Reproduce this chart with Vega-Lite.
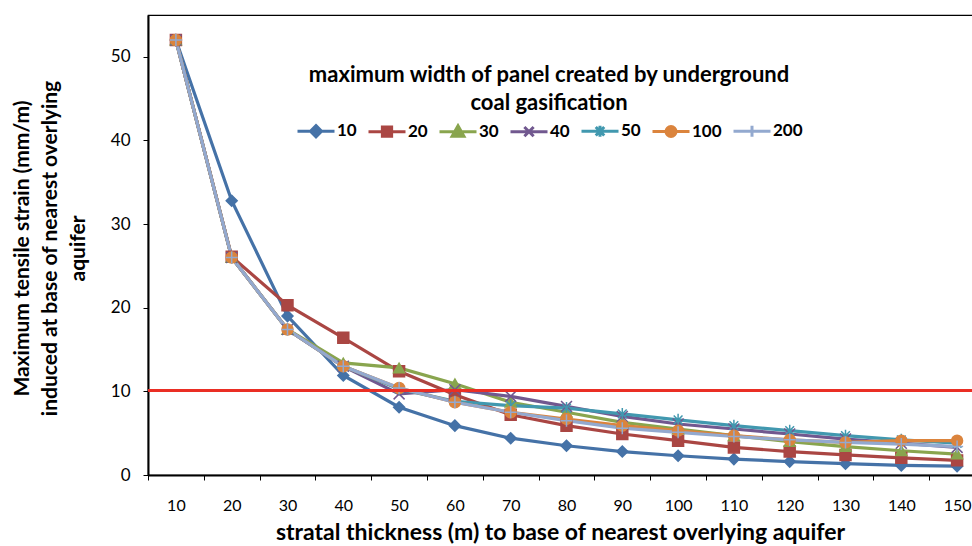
{
  "$schema": "https://vega.github.io/schema/vega-lite/v6.json",
  "autosize": "none",
  "padding": {"left": 148, "top": 15, "right": 0, "bottom": 71},
  "width": 837,
  "height": 460,
  "background": "white",
  "config": {
    "view": {"stroke": "#000", "strokeWidth": 1.2},
    "font": "Lato"
  },
  "datasets": {
    "series": [
      {"t": 10, "w": "10", "v": 52}, {"t": 20, "w": "10", "v": 32.8}, {"t": 30, "w": "10", "v": 19.0}, {"t": 40, "w": "10", "v": 11.9}, {"t": 50, "w": "10", "v": 8.1}, {"t": 60, "w": "10", "v": 5.9}, {"t": 70, "w": "10", "v": 4.4}, {"t": 80, "w": "10", "v": 3.5}, {"t": 90, "w": "10", "v": 2.8}, {"t": 100, "w": "10", "v": 2.3}, {"t": 110, "w": "10", "v": 1.9}, {"t": 120, "w": "10", "v": 1.6}, {"t": 130, "w": "10", "v": 1.35}, {"t": 140, "w": "10", "v": 1.15}, {"t": 150, "w": "10", "v": 1.05},
      {"t": 10, "w": "20", "v": 52}, {"t": 20, "w": "20", "v": 26.1}, {"t": 30, "w": "20", "v": 20.3}, {"t": 40, "w": "20", "v": 16.4}, {"t": 50, "w": "20", "v": 12.4}, {"t": 60, "w": "20", "v": 9.6}, {"t": 70, "w": "20", "v": 7.2}, {"t": 80, "w": "20", "v": 5.9}, {"t": 90, "w": "20", "v": 4.9}, {"t": 100, "w": "20", "v": 4.1}, {"t": 110, "w": "20", "v": 3.3}, {"t": 120, "w": "20", "v": 2.8}, {"t": 130, "w": "20", "v": 2.4}, {"t": 140, "w": "20", "v": 2.05}, {"t": 150, "w": "20", "v": 1.75},
      {"t": 10, "w": "30", "v": 52}, {"t": 20, "w": "30", "v": 26.0}, {"t": 30, "w": "30", "v": 17.4}, {"t": 40, "w": "30", "v": 13.4}, {"t": 50, "w": "30", "v": 12.8}, {"t": 60, "w": "30", "v": 10.9}, {"t": 70, "w": "30", "v": 8.7}, {"t": 80, "w": "30", "v": 7.5}, {"t": 90, "w": "30", "v": 6.3}, {"t": 100, "w": "30", "v": 5.5}, {"t": 110, "w": "30", "v": 4.7}, {"t": 120, "w": "30", "v": 4.0}, {"t": 130, "w": "30", "v": 3.4}, {"t": 140, "w": "30", "v": 2.9}, {"t": 150, "w": "30", "v": 2.5},
      {"t": 10, "w": "40", "v": 52}, {"t": 20, "w": "40", "v": 26.0}, {"t": 30, "w": "40", "v": 17.4}, {"t": 40, "w": "40", "v": 13.0}, {"t": 50, "w": "40", "v": 9.7}, {"t": 60, "w": "40", "v": 10.2}, {"t": 70, "w": "40", "v": 9.4}, {"t": 80, "w": "40", "v": 8.2}, {"t": 90, "w": "40", "v": 7.0}, {"t": 100, "w": "40", "v": 6.1}, {"t": 110, "w": "40", "v": 5.5}, {"t": 120, "w": "40", "v": 4.9}, {"t": 130, "w": "40", "v": 4.3}, {"t": 140, "w": "40", "v": 3.8}, {"t": 150, "w": "40", "v": 3.3},
      {"t": 10, "w": "50", "v": 52}, {"t": 20, "w": "50", "v": 26.0}, {"t": 30, "w": "50", "v": 17.4}, {"t": 40, "w": "50", "v": 13.0}, {"t": 50, "w": "50", "v": 10.3}, {"t": 60, "w": "50", "v": 8.8}, {"t": 70, "w": "50", "v": 8.3}, {"t": 80, "w": "50", "v": 8.0}, {"t": 90, "w": "50", "v": 7.3}, {"t": 100, "w": "50", "v": 6.6}, {"t": 110, "w": "50", "v": 5.9}, {"t": 120, "w": "50", "v": 5.3}, {"t": 130, "w": "50", "v": 4.7}, {"t": 140, "w": "50", "v": 4.2}, {"t": 150, "w": "50", "v": 3.8},
      {"t": 10, "w": "100", "v": 52}, {"t": 20, "w": "100", "v": 26.0}, {"t": 30, "w": "100", "v": 17.4}, {"t": 40, "w": "100", "v": 13.0}, {"t": 50, "w": "100", "v": 10.4}, {"t": 60, "w": "100", "v": 8.7}, {"t": 70, "w": "100", "v": 7.5}, {"t": 80, "w": "100", "v": 6.7}, {"t": 90, "w": "100", "v": 5.9}, {"t": 100, "w": "100", "v": 5.3}, {"t": 110, "w": "100", "v": 4.7}, {"t": 120, "w": "100", "v": 4.2}, {"t": 130, "w": "100", "v": 3.9}, {"t": 140, "w": "100", "v": 4.1}, {"t": 150, "w": "100", "v": 4.1},
      {"t": 10, "w": "200", "v": 52}, {"t": 20, "w": "200", "v": 26.0}, {"t": 30, "w": "200", "v": 17.4}, {"t": 40, "w": "200", "v": 13.0}, {"t": 50, "w": "200", "v": 10.4}, {"t": 60, "w": "200", "v": 8.7}, {"t": 70, "w": "200", "v": 7.5}, {"t": 80, "w": "200", "v": 6.5}, {"t": 90, "w": "200", "v": 5.6}, {"t": 100, "w": "200", "v": 5.1}, {"t": 110, "w": "200", "v": 4.6}, {"t": 120, "w": "200", "v": 4.2}, {"t": 130, "w": "200", "v": 3.9}, {"t": 140, "w": "200", "v": 3.7}, {"t": 150, "w": "200", "v": 3.4}
    ],
    "threshold": [{"limit": 10.1}]
  },
  "encoding": {
    "x": {
      "field": "t",
      "type": "ordinal",
      "scale": {"type": "band", "paddingInner": 0, "paddingOuter": 0},
      "axis": {
        "tickBand": "extent",
        "labelAngle": 0,
        "labelFontSize": 16,
        "labelColor": "#000",
        "labelPadding": 17,
        "tickColor": "#000",
        "tickSize": 5,
        "domainColor": "#000",
        "domainWidth": 2,
        "title": "stratal thickness (m) to base of nearest overlying aquifer",
        "titleFontSize": 23,
        "titleFontWeight": "bold",
        "titleColor": "#000",
        "titleX": 412,
        "titleY": 57,
        "titleBaseline": "middle",
        "titleAnchor": "middle",
        "titleLimit": 1000
      }
    },
    "y": {
      "field": "v",
      "type": "quantitative",
      "scale": {"domain": [0, 55], "nice": false},
      "axis": {
        "values": [0, 10, 20, 30, 40, 50],
        "grid": false,
        "labelFontSize": 17,
        "labelColor": "#000",
        "labelPadding": 13,
        "tickColor": "#000",
        "tickSize": 5,
        "domainColor": "#000",
        "domainWidth": 2,
        "title": ["Maximum tensile strain (mm/m)", "induced at base of nearest overlying", "aquifer"],
        "titleFontSize": 21,
        "titleFontWeight": "bold",
        "titleColor": "#000",
        "titleLineHeight": 28,
        "titleX": -126,
        "titleY": 233,
        "titleBaseline": "middle",
        "titleAnchor": "middle",
        "titleLimit": 1000
      }
    }
  },
  "layer": [
    {
      "data": {"name": "series"},
      "mark": {"type": "line", "strokeWidth": 3.2},
      "encoding": {
        "color": {
          "field": "w",
          "type": "nominal",
          "scale": {
            "domain": ["10", "20", "30", "40", "50", "100", "200"],
            "range": ["#4572A7", "#AA4643", "#89A54E", "#71588F", "#4198AF", "#DB843D", "#93A9CF"]
          },
          "legend": {
            "orient": "none",
            "legendX": 148,
            "legendY": 50,
            "direction": "horizontal",
            "title": ["maximum width of panel created by underground", "coal gasification"],
            "titleFontSize": 22,
            "titleFontWeight": "bold",
            "titleColor": "#000",
            "titleLineHeight": 28,
            "titleLimit": 1000,
            "titleAnchor": "middle",
            "titleAlign": "center",
            "titlePadding": -4,
            "labelFontSize": 17,
            "labelFontWeight": "bold",
            "labelColor": "#000",
            "labelOffset": 1,
            "columnPadding": 5,
            "symbolSize": 1369,
            "symbolStrokeWidth": 3,
            "encode": {
              "symbols": {
                "update": {
                  "shape": {"signal": "datum.value === '10' ? 'M-1,0L1,0M0,-0.3L0.3,0L0,0.3L-0.3,0Z' : datum.value === '20' ? 'M-1,0L1,0M-0.25,-0.25L0.25,-0.25L0.25,0.25L-0.25,0.25Z' : datum.value === '30' ? 'M-1,0L1,0M0,-0.32L0.32,0.25L-0.32,0.25Z' : datum.value === '40' ? 'M-1,0L1,0M-0.25,-0.25L0.25,0.25M-0.25,0.25L0.25,-0.25' : datum.value === '50' ? 'M-1,0L1,0M0,-0.3L0,0.3M-0.23,-0.23L0.23,0.23M-0.23,0.23L0.23,-0.23' : datum.value === '100' ? 'M-1,0L1,0M0.27,0A0.27,0.27,0,1,1,-0.27,0A0.27,0.27,0,1,1,0.27,0Z' : 'M-1,0L1,0M0,-0.3L0,0.3'"},
                  "fill": {"signal": "scale('color', datum.value)"},
                  "stroke": {"signal": "scale('color', datum.value)"},
                  "strokeWidth": {"value": 3},
                  "opacity": {"value": 1}
                }
              }
            }
          }
        }
      }
    },
    {
      "data": {"name": "series"},
      "mark": {"type": "point", "filled": true, "size": 120, "strokeWidth": 1.5, "opacity": 1},
      "encoding": {
        "color": {"field": "w", "type": "nominal"},
        "stroke": {"field": "w", "type": "nominal", "scale": {"domain": ["200", "100", "50", "40", "30", "20", "10"], "range": ["#93A9CF", "#DB843D", "#4198AF", "#71588F", "#89A54E", "#AA4643", "#4572A7"]}, "legend": null},
        "shape": {
          "field": "w",
          "type": "nominal",
          "scale": {
            "domain": ["20", "10", "40", "30", "100", "50", "200"],
            "range": ["square", "diamond", "M-1,-1L1,1M-1,1L1,-1", "triangle-up", "circle", "M0,-1.1L0,1.1M-0.8,-0.8L0.8,0.8M-0.8,0.8L0.8,-0.8", "M-1.1,0L1.1,0M0,-1.1L0,1.1"]
          },
          "legend": null
        }
      }
    },
    {
      "data": {"name": "threshold"},
      "mark": {"type": "rule", "color": "#EA2E24", "strokeWidth": 3},
      "encoding": {
        "y": {"field": "limit", "type": "quantitative"},
        "x": null
      }
    }
  ]
}
